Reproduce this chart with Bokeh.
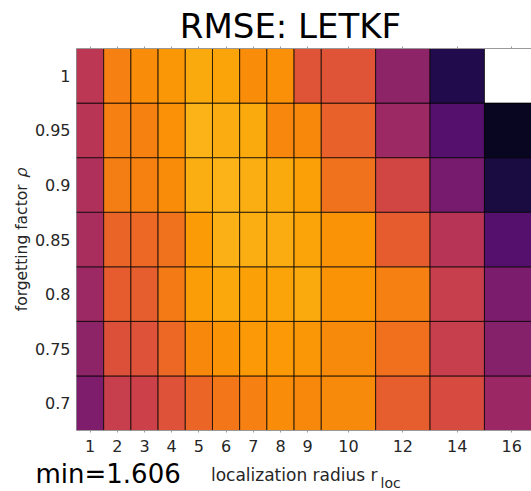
import numpy as np
from bokeh.plotting import figure
from bokeh.layouts import column
from bokeh.models import (ColumnDataSource, LinearColorMapper, LinearAxis, FixedTicker, Label)
from bokeh.transform import transform
from bokeh.palettes import Inferno256
from bokeh.embed import file_html
from bokeh.resources import INLINE

# ---------------- data ----------------
r_loc = [1, 2, 3, 4, 5, 6, 7, 8, 9, 10, 12, 14, 16]
rho = [0.7, 0.75, 0.8, 0.85, 0.9, 0.95, 1.0]
rho_labels = ["0.7", "0.75", "0.8", "0.85", "0.9", "0.95", "1"]
# cell edges along the radius axis (as drawn in the reference)
x_edges = [0.5, 1.5, 2.5, 3.5, 4.5, 5.5, 6.5, 7.5, 8.5, 9.5, 11.5, 13.5, 15.5, 17.5]

rmse_rho_070 = [2.772, 2.316, 2.292, 2.148, 2.016, 1.920, 1.872, 1.800, 1.824, 1.812, 2.064, 2.208, 2.592]
rmse_rho_075 = [2.664, 2.160, 2.148, 2.004, 1.824, 1.764, 1.740, 1.740, 1.752, 1.812, 1.956, 2.316, 2.724]
rmse_rho_080 = [2.580, 2.076, 2.064, 1.896, 1.716, 1.668, 1.704, 1.680, 1.656, 1.764, 1.872, 2.316, 2.784]
rmse_rho_085 = [2.508, 2.028, 2.004, 1.944, 1.728, 1.620, 1.632, 1.644, 1.680, 1.764, 2.076, 2.424, 3.000]
rmse_rho_090 = [2.472, 1.884, 1.860, 1.800, 1.632, 1.611, 1.632, 1.656, 1.704, 1.944, 2.244, 2.808, 3.336]
rmse_rho_095 = [2.412, 1.872, 1.860, 1.776, 1.606, 1.644, 1.656, 1.836, 1.824, 2.052, 2.580, 3.000, 3.456]
rmse_rho_100 = [2.400, 1.872, 1.800, 1.752, 1.656, 1.680, 1.800, 1.788, 2.136, 2.130, 2.664, 3.288, np.nan]
rmse_rows = [rmse_rho_070, rmse_rho_075, rmse_rho_080, rmse_rho_085,
             rmse_rho_090, rmse_rho_095, rmse_rho_100]

title_text = "RMSE: LETKF"
min_text = "min=1.606"
xlabel_text = "localization radius r"
xlabel_sub = "loc"
ylabel_text = "forgetting factor\u2002𝜌"

# ---------------- layout ----------------
W = 531
TOP_H = 45          # title strip
BORDER_T = 3
BORDER_B = 28
FRAME_H = 382
MAIN_H = BORDER_T + FRAME_H + BORDER_B
BOT_H = 491 - TOP_H - MAIN_H   # strip with "min=" and the x label
FRAME_L = 76
X0, X1 = 0.5, 17.23
Y0, Y1 = -0.5, 6.5
FONT = "DejaVu Sans"
TICK_COL = "#262626"

left, right, bottom, top, vals = [], [], [], [], []
for j, row in enumerate(rmse_rows):
    for i, v in enumerate(row):
        left.append(x_edges[i])
        right.append(x_edges[i + 1])
        bottom.append(j - 0.5)
        top.append(j + 0.5)
        vals.append(v)
src = ColumnDataSource(dict(left=left, right=right, bottom=bottom, top=top, rmse=vals))

mapper = LinearColorMapper(palette=list(reversed(Inferno256)), low=1.2, high=3.6,
                           nan_color="white")

p = figure(width=W, height=MAIN_H, output_backend="svg", toolbar_location=None,
           x_range=(X0, X1), y_range=(Y0, Y1),
           min_border_left=FRAME_L, min_border_right=0,
           min_border_top=BORDER_T, min_border_bottom=BORDER_B,
           x_axis_location=None, y_axis_location=None)
p.outline_line_color = None
p.xgrid.visible = False
p.ygrid.visible = False
p.background_fill_color = "white"
p.border_fill_color = "white"

p.quad(left="left", right="right", bottom="bottom", top="top", source=src,
       fill_color=transform("rmse", mapper), line_color="black", line_alpha=0.75,
       line_width=1)

centers = [(x_edges[i] + x_edges[i + 1]) / 2 for i in range(len(r_loc))]

xb = LinearAxis(ticker=FixedTicker(ticks=centers),
                major_label_overrides={c: str(r) for c, r in zip(centers, r_loc)})
xb.major_tick_in = 0
xb.major_tick_out = 2
xb.minor_tick_line_color = None
xb.axis_line_color = "#999999"
xb.major_tick_line_color = "#999999"
xb.major_label_standoff = 7
xb.major_label_text_font = FONT
xb.major_label_text_font_size = "16px"
xb.major_label_text_color = TICK_COL
p.add_layout(xb, "below")

xt = LinearAxis(ticker=FixedTicker(ticks=centers))
xt.major_tick_in = 0
xt.major_tick_out = 2
xt.minor_tick_line_color = None
xt.axis_line_color = "#999999"
xt.major_tick_line_color = "#999999"
xt.major_label_standoff = 0
xt.major_label_text_alpha = 0
xt.major_label_text_font_size = "0px"
p.add_layout(xt, "above")

yl = LinearAxis(ticker=FixedTicker(ticks=list(range(len(rho)))),
                major_label_overrides={j: s for j, s in enumerate(rho_labels)})
yl.major_tick_in = 0
yl.major_tick_out = 0
yl.minor_tick_line_color = None
yl.axis_line_color = None
yl.major_label_standoff = 6
yl.major_label_text_font = FONT
yl.major_label_text_font_size = "16px"
yl.major_label_text_color = TICK_COL
yl.axis_label = ylabel_text
yl.axis_label_text_font = FONT
yl.axis_label_text_font_style = "normal"
yl.axis_label_text_font_size = "15.5px"
yl.axis_label_text_color = TICK_COL
yl.axis_label_standoff = 1
p.add_layout(yl, "left")


def strip(height):
    s = figure(width=W, height=height, output_backend="svg", toolbar_location=None,
               x_range=(0, 1), y_range=(0, 1), min_border=0,
               x_axis_location=None, y_axis_location=None)
    s.outline_line_color = None
    s.xgrid.visible = False
    s.ygrid.visible = False
    s.background_fill_color = "white"
    s.border_fill_color = "white"
    return s


def add_text(fig, fig_top, px, py, text, size, align="left", color=TICK_COL):
    # px: page pixel of the anchor; py: page pixel of the text's vertical middle
    fig.add_layout(Label(x=px, y=fig_top + fig.height - py, x_units="screen", y_units="screen",
                         text=text, text_font=FONT, text_font_size=size, text_color=color,
                         text_align=align, text_baseline="middle"))


top_strip = strip(TOP_H)
add_text(top_strip, 0, 290, 25, title_text, "34px", align="center", color="black")

bot_top = TOP_H + MAIN_H
bot_strip = strip(BOT_H)
add_text(bot_strip, bot_top, 35, 473.6, min_text, "26px", color="black")
add_text(bot_strip, bot_top, 377, 474.1, xlabel_text, "17px", align="right")
add_text(bot_strip, bot_top, 380, 482.7, xlabel_sub, "14px")

for fig in (top_strip, p, bot_strip):
    if "frame_align" in fig.properties():
        fig.frame_align = False

layout = column(top_strip, p, bot_strip, spacing=0)
open("out.html", "w").write(file_html(layout, INLINE))
